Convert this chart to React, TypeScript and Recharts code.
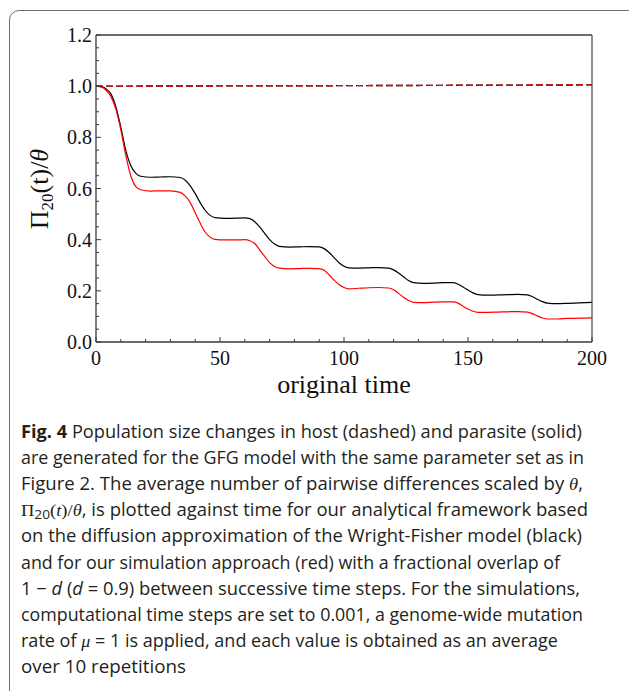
import React from "react";
import { LineChart, Line, XAxis, YAxis, ReferenceLine } from "recharts";

const times = [0,2,4,6,8,10,12,14,16,18,22,26,30,34,36,38,40,42,44,46,48,52,56,60,62,64,66,68,70,72,74,78,82,86,90,92,94,96,98,100,102,106,110,114,118,120,122,124,126,128,132,136,140,144,146,148,150,152,154,158,162,166,170,174,176,178,180,182,186,190,195,200];

const analytical = [1.0,0.998,0.99,0.97,0.92,0.84,0.75,0.69,0.66,0.648,0.644,0.645,0.646,0.643,0.632,0.61,0.58,0.545,0.515,0.495,0.486,0.483,0.484,0.485,0.482,0.47,0.45,0.425,0.4,0.383,0.374,0.371,0.372,0.373,0.372,0.365,0.35,0.33,0.31,0.296,0.29,0.289,0.29,0.291,0.289,0.282,0.27,0.255,0.24,0.232,0.229,0.23,0.232,0.232,0.226,0.215,0.203,0.192,0.185,0.183,0.184,0.185,0.186,0.184,0.177,0.167,0.158,0.152,0.15,0.151,0.153,0.155];

const simulation = [1.0,0.997,0.985,0.96,0.91,0.83,0.73,0.65,0.608,0.595,0.59,0.591,0.591,0.585,0.57,0.545,0.505,0.465,0.43,0.41,0.401,0.399,0.399,0.4,0.396,0.385,0.36,0.335,0.31,0.295,0.289,0.286,0.287,0.288,0.287,0.28,0.262,0.242,0.225,0.213,0.208,0.21,0.212,0.213,0.211,0.204,0.19,0.175,0.162,0.155,0.154,0.156,0.157,0.157,0.152,0.14,0.129,0.12,0.116,0.116,0.117,0.118,0.119,0.117,0.111,0.102,0.094,0.09,0.09,0.092,0.093,0.094];

const hostTimes = [0, 100, 200];
const hostAnalytical = [1.0, 1.002, 1.005];
const hostSimulation = [1.0, 1.002, 1.005];

const xTicks = [0,10,20,30,40,50,60,70,80,90,100,110,120,130,140,150,160,170,180,190,200];
const xMajorTicks = [0, 50, 100, 150, 200];
const yTicks = [0,0.05,0.1,0.15,0.2,0.25,0.3,0.35,0.4,0.45,0.5,0.55,0.6,0.65,0.7,0.75,0.8,0.85,0.9,0.95,1.0,1.05,1.1,1.15,1.2];
const yMajorTicks = [0, 0.2, 0.4, 0.6, 0.8, 1.0, 1.2];

const captionLines = [
  "Fig. 4 Population size changes in host (dashed) and parasite (solid)",
  "are generated for the GFG model with the same parameter set as in",
  "Figure 2. The average number of pairwise differences scaled by θ,",
  "Π20(t)/θ, is plotted against time for our analytical framework based",
  "on the diffusion approximation of the Wright-Fisher model (black)",
  "and for our simulation approach (red) with a fractional overlap of",
  "1 − d (d = 0.9) between successive time steps. For the simulations,",
  "computational time steps are set to 0.001, a genome-wide mutation",
  "rate of μ = 1 is applied, and each value is obtained as an average",
  "over 10 repetitions",
];
const captionWidths = [561, 563, 562, 567, 561, 539, 559, 562, 537, 165];

type Row = { t: number; black?: number; red?: number; hostBlack?: number; hostRed?: number };
const rowMap = new Map<number, Row>();
times.forEach((t, i) => {
  rowMap.set(t, { t, black: analytical[i], red: simulation[i] });
});
hostTimes.forEach((t, i) => {
  const r = rowMap.get(t) || { t };
  r.hostBlack = hostAnalytical[i];
  r.hostRed = hostSimulation[i];
  rowMap.set(t, r);
});
const data = Array.from(rowMap.values()).sort((a, b) => a.t - b.t);

const SERIF = "'Liberation Serif', 'Times New Roman', serif";
const SANS = "'Open Sans', 'Noto Sans', sans-serif";
const AX = "#3a3a3a";

const XTick = (props: any) => {
  const { x, y, payload } = props;
  const major = xMajorTicks.includes(payload.value);
  return (
    <g>
      <line x1={x} y1={y} x2={x} y2={y - (major ? 5 : 3)} stroke={AX} strokeWidth={1} />
      {major && (
        <text x={x} y={y + 16} textAnchor="middle" dominantBaseline="central" fontFamily={SERIF} fontSize={20} fill="#111">
          {payload.value}
        </text>
      )}
    </g>
  );
};

const YTick = (props: any) => {
  const { x, y, payload } = props;
  const major = yMajorTicks.some((m) => Math.abs(m - payload.value) < 1e-6);
  return (
    <g>
      <line x1={x} y1={y} x2={x + (major ? 5 : 3)} y2={y} stroke={AX} strokeWidth={1} />
      {major && (
        <text x={x - 4} y={y} textAnchor="end" dominantBaseline="central" fontFamily={SERIF} fontSize={20} fill="#111">
          {Number(payload.value).toFixed(1)}
        </text>
      )}
    </g>
  );
};

const renderCaptionLine = (line: string, i: number) => {
  const props = { x: 21, y: 438 + i * 26.1, textLength: captionWidths[i], lengthAdjust: "spacingAndGlyphs" as const };
  if (i === 0) {
    return (
      <text key={i} {...props}>
        <tspan fontWeight="bold">Fig. 4</tspan>
        {line.slice(6)}
      </text>
    );
  }
  if (i === 2) {
    return (
      <text key={i} {...props}>
        {line.slice(0, line.length - 2)}
        <tspan fontFamily={SERIF} fontStyle="italic">θ</tspan>,
      </text>
    );
  }
  if (i === 3) {
    return (
      <text key={i} {...props}>
        <tspan fontFamily={SERIF}>Π</tspan>
        <tspan fontSize={13} dy={3}>20</tspan>
        <tspan fontFamily={SERIF} dy={-3}>(</tspan>
        <tspan fontFamily={SERIF} fontStyle="italic">t</tspan>
        <tspan fontFamily={SERIF}>)/</tspan>
        <tspan fontFamily={SERIF} fontStyle="italic">θ</tspan>
        {line.slice(8)}
      </text>
    );
  }
  if (i === 6) {
    return (
      <text key={i} {...props}>
        {"1 − "}
        <tspan fontStyle="italic">d</tspan>
        {" ("}
        <tspan fontStyle="italic">d</tspan>
        {line.slice(8)}
      </text>
    );
  }
  if (i === 8) {
    return (
      <text key={i} {...props}>
        {"rate of "}
        <tspan fontFamily={SERIF} fontStyle="italic">μ</tspan>
        {line.slice(9)}
      </text>
    );
  }
  return (
    <text key={i} {...props}>
      {line}
    </text>
  );
};

export default function App() {
  return (
    <div style={{ position: "absolute", left: 0, top: 0, width: 629, height: 691, background: "#fff", overflow: "hidden" }}>
      <div
        style={{
          position: "absolute",
          left: 9,
          top: 10,
          width: 660,
          height: 720,
          border: "1.5px solid #707070",
          borderRadius: 10,
          boxSizing: "border-box",
        }}
      />
      <div style={{ position: "absolute", left: 0, top: 0 }}>
        <LineChart width={629} height={400} data={data} margin={{ top: 35, right: 37, bottom: 0, left: 0 }}>
          <XAxis
            dataKey="t"
            type="number"
            domain={[0, 200]}
            ticks={xTicks}
            interval={0}
            height={58}
            tickSize={0}
            tickMargin={0}
            tickLine={false}
            tick={<XTick />}
            axisLine={{ stroke: AX, strokeWidth: 1.3 }}
            allowDataOverflow
          />
          <YAxis
            type="number"
            domain={[0, 1.2]}
            ticks={yTicks}
            interval={0}
            width={96}
            tickSize={0}
            tickMargin={0}
            tickLine={false}
            tick={<YTick />}
            axisLine={{ stroke: AX, strokeWidth: 1.3 }}
            allowDataOverflow
          />
          <ReferenceLine y={1.2} stroke={AX} strokeWidth={1.3} />
          <ReferenceLine x={200} stroke="#555" strokeWidth={1.3} />
          <Line type="monotone" dataKey="black" stroke="#000" strokeWidth={1.2} dot={false} isAnimationActive={false} connectNulls />
          <Line type="monotone" dataKey="red" stroke="#ff0000" strokeWidth={1.2} dot={false} isAnimationActive={false} connectNulls />
          <Line type="linear" dataKey="hostBlack" stroke="#000" strokeWidth={1.4} strokeDasharray="7 3" dot={false} isAnimationActive={false} connectNulls />
          <Line type="linear" dataKey="hostRed" stroke="#ff0000" strokeWidth={1.4} strokeDasharray="6 4" strokeDashoffset={-1} dot={false} isAnimationActive={false} connectNulls />
        </LineChart>
      </div>
      <svg width={629} height={691} style={{ position: "absolute", left: 0, top: 0, pointerEvents: "none" }}>
        <text x={344} y={393} textAnchor="middle" fontFamily={SERIF} fontSize={26} fill="#111">
          original time
        </text>
        <text x={48} y={189} textAnchor="middle" fontFamily={SERIF} fontSize={26} fill="#111" transform="rotate(-90 48 189)">
          Π<tspan fontSize={17} dy={5}>20</tspan>
          <tspan dy={-5}>(t)/</tspan>
          <tspan fontStyle="italic">θ</tspan>
        </text>
        <g fontFamily={SANS} fontSize={17.5} fill="#231f20">
          {captionLines.map(renderCaptionLine)}
        </g>
      </svg>
    </div>
  );
}
